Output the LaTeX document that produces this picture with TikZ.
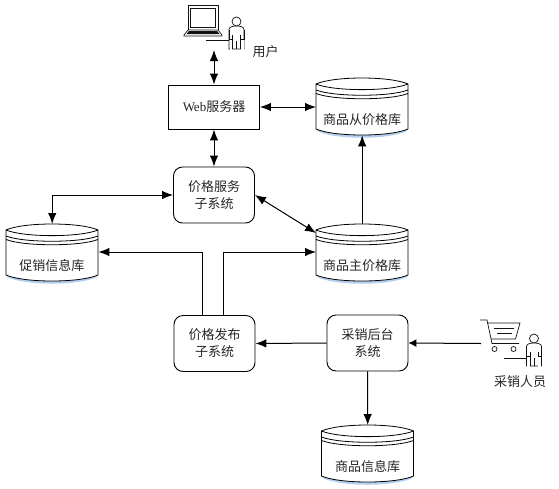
\documentclass[tikz,border=0pt]{standalone}
\usepackage{fontspec}
\setmainfont{Liberation Serif}
\newfontfamily\cjk{Noto Sans CJK SC}
\usetikzlibrary{arrows.meta,calc}
\definecolor{shadowblue}{HTML}{B4CFEE}
\definecolor{inkline}{HTML}{111111}
\tikzset{
  x=1pt,y=-1pt,
  conn/.style={draw=black,line width=1pt,-{Latex[length=11pt,width=8.5pt]}},
  connsmall/.style={draw=black,line width=1pt,-{Latex[length=8pt,width=8pt]}},
  connb/.style={draw=black,line width=1pt,{Latex[length=11pt,width=8.5pt]}-{Latex[length=11pt,width=8.5pt]}},
  sysbox/.style={draw=black,line width=0.9pt,rounded corners=9pt,fill=white,inner sep=0pt,align=center,font=\cjk\fontsize{13}{17}\selectfont,text=black!85},
  webbox/.style={draw=black,line width=0.9pt,fill=white,inner sep=0pt,align=center,font=\fontsize{13}{14}\selectfont,text=black!85},
  dbarea/.style={inner sep=0pt,minimum width=92pt,minimum height=57pt},
  dbline/.style={draw=black,line width=0.8pt},
  dblabel/.style={inner sep=0pt,font=\cjk\fontsize{13}{14}\selectfont,text=black!85},
  lbl/.style={inner sep=0pt,font=\cjk\fontsize{13}{14}\selectfont,text=black!85},
  icon/.style={draw=inkline,line width=0.7pt,fill=white}
}
% #1 name, #2 left x, #3 top y, #4 label
\newcommand{\dbnode}[4]{%
  \node[dbarea,anchor=north west] (#1) at (#2,#3) {};
  \begin{scope}[shift={(#2,#3)}]
    \fill[shadowblue] (1,7) -- (1,53) .. controls (20,62) and (72,62) .. (91,53) -- (91,7) -- cycle;
    \path[dbline,fill=white] (0,6) -- (0,51) .. controls (18,59) and (74,59) .. (92,51) -- (92,6)
       .. controls (74,-2) and (18,-2) .. (0,6) -- cycle;
    \path[dbline] (0,6) .. controls (18,13.5) and (74,13.5) .. (92,6);
    \path[dbline] (0,12) .. controls (18,19) and (74,19) .. (92,12);
    \path[dbline] (0,15.5) .. controls (18,22.5) and (74,22.5) .. (92,15.5);
    \node[dblabel] (#1-t) at (46,42) {#4};
  \end{scope}}
% person icon: #1 centre x, #2 top y
\newcommand{\person}[2]{%
  \begin{scope}[shift={(#1,#2)}]
    \path[icon] (-7.5,32) -- (-7.5,12.5) .. controls (-7.5,10) and (-4,9) .. (0,9) .. controls (4,9) and (7.5,10) .. (7.5,12.5) -- (7.5,32) -- cycle;
    \path[icon] (-4,32) -- (-4,18) (0,32) -- (0,24) (4,32) -- (4,18);
    \fill[white] (-7,22) rectangle (-4.4,33);
    \fill[white] (4.4,22) rectangle (7,33);
    \path[icon,fill=none] (-7.5,12.5) -- (-7.5,22) -- (-4,22) (7.5,12.5) -- (7.5,22) -- (4,22);
    \path[icon] (0,4.5) circle (4.5);
  \end{scope}}
\begin{document}
\begin{tikzpicture}
\useasboundingbox (0,0) rectangle (559,488);
\fill[white] (0,0) rectangle (559,488);

% databases
\dbnode{slave}{316}{78}{商品从价格库}
\dbnode{promo}{6}{224}{促销信息库}
\dbnode{master}{316}{224}{商品主价格库}
\dbnode{info}{321.5}{425}{商品信息库}

% boxes
\node[webbox,minimum width=91pt,minimum height=44pt] (web) at (214,107) {Web{\cjk 服务器}};
\node[sysbox,minimum width=81pt,minimum height=56pt] (price) at (214,195) {价格服务\\子系统};
\node[sysbox,minimum width=81pt,minimum height=56pt] (publish) at (214.5,343.5) {价格发布\\子系统};
\node[sysbox,minimum width=81pt,minimum height=56pt] (backend) at (367.5,343) {采销后台\\系统};

% laptop + user
\coordinate (userport) at (214,50);
\begin{scope}[shift={(183,5)}]
  \path[icon] (5,0.5) -- (35,0.5) -- (35,25) -- (5,25) -- cycle;
  \path[icon] (7.5,3) rectangle (32.5,22.5);
  \path[icon] (5,25) -- (35,25) -- (39,30) -- (39,31) -- (1,31) -- (1,30) -- cycle;
  \fill[inkline] (6,26) -- (34,26) -- (36.5,29) -- (3.5,29) -- cycle;
\end{scope}
\draw[icon] (206,40) -- (230,40);
\person{236.5}{17}
\node[lbl] (userlabel) at (265.5,52) {用户};

% cart + buyer
\coordinate (cartport) at (481,343.5);
\begin{scope}[shift={(480,320)}]
  \draw[icon,fill=none] (0,0) -- (7,0) -- (12,23.5) -- (39,23.5);
  \draw[icon,fill=none] (7,3) -- (40,3) -- (35.5,19) -- (11,19);
  \draw[icon,fill=none] (14,8) -- (34,8) (17,13) -- (32,13);
  \draw[icon] (14.5,29) circle (2.5);
  \draw[icon] (33.5,29) circle (2.5);
\end{scope}
\draw[icon] (504,358) -- (528,358);
\person{534}{334}
\node[lbl] (buyerlabel) at (520,381.5) {采销人员};

% connectors
\draw[connb] (userport) -- (web.north);
\draw[connb] (web.east) -- (slave.west |- web.east);
\draw[connb] (web.south) -- (price.north);
\draw[connb] (price.west) -| (promo.north);
\draw[connb] (price.east) -- ($(master.north west)+(0,9)$);
\draw[conn] (master.north) -- (slave.south);
\draw[conn] ($(publish.north)+(-12.5,0)$) |- (promo.east |- 0,252);
\draw[conn] ($(publish.north)+(8.5,0)$) |- (master.west |- 0,252);
\draw[conn] (backend.west) -- (publish.east);
\draw[connsmall] (cartport) -- (backend.east);
\draw[conn] (backend.south) -- (info.north);
\end{tikzpicture}
\end{document}
